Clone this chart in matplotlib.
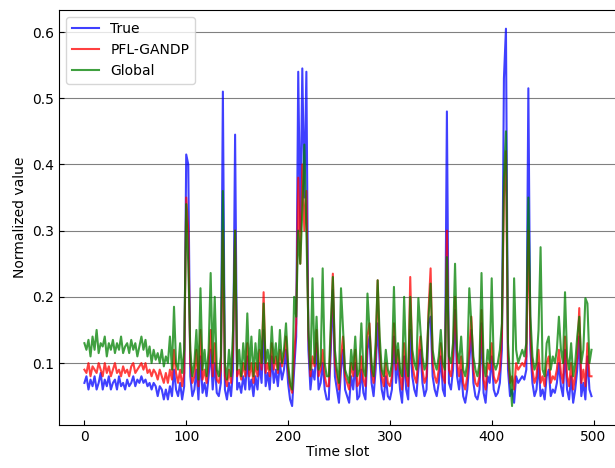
import numpy as np
from matplotlib import pyplot as plt

# values, one every 2 time slots
time_slots = np.arange(0, 500, 2)

true_vals = [
    0.07, 0.08, 0.06, 0.075, 0.065, 0.08, 0.06, 0.07, 0.085, 0.06,
    0.075, 0.065, 0.08, 0.06, 0.07, 0.075, 0.06, 0.08, 0.065, 0.07,
    0.06, 0.075, 0.065, 0.07, 0.08, 0.065, 0.075, 0.07, 0.08, 0.07,
    0.075, 0.065, 0.07, 0.06, 0.07, 0.065, 0.05, 0.065, 0.06, 0.045,
    0.06, 0.045, 0.065, 0.05, 0.09, 0.06, 0.05, 0.07, 0.045, 0.065,
    0.415, 0.40, 0.08, 0.05, 0.06, 0.09, 0.045, 0.11, 0.055, 0.07,
    0.05, 0.08, 0.12, 0.06, 0.10, 0.055, 0.05, 0.07, 0.51, 0.06,
    0.045, 0.07, 0.05, 0.09, 0.445, 0.06, 0.07, 0.055, 0.08, 0.06,
    0.11, 0.06, 0.075, 0.05, 0.08, 0.06, 0.10, 0.07, 0.15, 0.065,
    0.085, 0.06, 0.11, 0.07, 0.09, 0.065, 0.10, 0.075, 0.09, 0.12,
    0.07, 0.045, 0.035, 0.09, 0.14, 0.54, 0.30, 0.545, 0.35, 0.54,
    0.12, 0.06, 0.09, 0.075, 0.13, 0.06, 0.07, 0.10, 0.06, 0.045,
    0.045, 0.12, 0.21, 0.08, 0.06, 0.04, 0.09, 0.12, 0.06, 0.05,
    0.04, 0.08, 0.06, 0.10, 0.045, 0.05, 0.09, 0.055, 0.045, 0.12,
    0.14, 0.07, 0.05, 0.09, 0.16, 0.10, 0.06, 0.045, 0.08, 0.05,
    0.045, 0.06, 0.14, 0.07, 0.10, 0.06, 0.04, 0.11, 0.06, 0.045,
    0.15, 0.08, 0.06, 0.05, 0.09, 0.12, 0.07, 0.05, 0.06, 0.16,
    0.17, 0.08, 0.06, 0.05, 0.07, 0.11, 0.06, 0.05, 0.48, 0.07,
    0.06, 0.09, 0.18, 0.08, 0.06, 0.09, 0.05, 0.04, 0.06, 0.10,
    0.15, 0.07, 0.05, 0.045, 0.06, 0.16, 0.055, 0.04, 0.08, 0.07,
    0.11, 0.06, 0.05, 0.055, 0.07, 0.12, 0.53, 0.605, 0.09, 0.05,
    0.06, 0.04, 0.08, 0.07, 0.075, 0.08, 0.075, 0.09, 0.515, 0.12,
    0.07, 0.05, 0.06, 0.10, 0.05, 0.06, 0.045, 0.08, 0.09, 0.05,
    0.06, 0.055, 0.07, 0.10, 0.065, 0.05, 0.12, 0.06, 0.045, 0.08,
    0.04, 0.06, 0.09, 0.14, 0.05, 0.07, 0.045, 0.11, 0.06, 0.05,
]

pfl_vals = [
    0.09, 0.085, 0.10, 0.08, 0.095, 0.09, 0.085, 0.10, 0.09, 0.08,
    0.10, 0.085, 0.095, 0.08, 0.09, 0.10, 0.085, 0.09, 0.08, 0.095,
    0.085, 0.09, 0.08, 0.095, 0.10, 0.085, 0.09, 0.095, 0.10, 0.09,
    0.10, 0.085, 0.09, 0.08, 0.09, 0.085, 0.075, 0.09, 0.08, 0.07,
    0.085, 0.07, 0.09, 0.075, 0.12, 0.085, 0.07, 0.09, 0.065, 0.085,
    0.35, 0.30, 0.10, 0.07, 0.08, 0.12, 0.065, 0.15, 0.075, 0.09,
    0.07, 0.10, 0.15, 0.08, 0.13, 0.075, 0.07, 0.09, 0.30, 0.08,
    0.065, 0.09, 0.07, 0.12, 0.30, 0.08, 0.09, 0.075, 0.10, 0.08,
    0.13, 0.08, 0.10, 0.07, 0.10, 0.08, 0.12, 0.09, 0.207, 0.085,
    0.10, 0.08, 0.13, 0.09, 0.11, 0.085, 0.12, 0.095, 0.11, 0.14,
    0.09, 0.065, 0.055, 0.11, 0.16, 0.38, 0.25, 0.40, 0.30, 0.36,
    0.14, 0.08, 0.11, 0.095, 0.15, 0.08, 0.09, 0.12, 0.08, 0.065,
    0.065, 0.14, 0.235, 0.10, 0.08, 0.06, 0.11, 0.14, 0.08, 0.07,
    0.06, 0.10, 0.08, 0.12, 0.065, 0.07, 0.11, 0.075, 0.065, 0.14,
    0.16, 0.09, 0.07, 0.11, 0.225, 0.12, 0.08, 0.065, 0.10, 0.07,
    0.065, 0.08, 0.16, 0.09, 0.12, 0.08, 0.06, 0.13, 0.08, 0.065,
    0.23, 0.10, 0.08, 0.07, 0.11, 0.14, 0.09, 0.07, 0.08, 0.18,
    0.243, 0.10, 0.08, 0.07, 0.09, 0.13, 0.08, 0.07, 0.30, 0.09,
    0.08, 0.11, 0.20, 0.10, 0.08, 0.11, 0.07, 0.06, 0.08, 0.12,
    0.17, 0.09, 0.07, 0.065, 0.08, 0.18, 0.075, 0.06, 0.10, 0.09,
    0.13, 0.08, 0.07, 0.075, 0.09, 0.14, 0.35, 0.42, 0.11, 0.07,
    0.08, 0.06, 0.10, 0.09, 0.095, 0.10, 0.095, 0.11, 0.30, 0.14,
    0.09, 0.07, 0.08, 0.12, 0.07, 0.08, 0.065, 0.10, 0.11, 0.07,
    0.08, 0.075, 0.09, 0.12, 0.085, 0.07, 0.14, 0.08, 0.065, 0.10,
    0.06, 0.08, 0.11, 0.183, 0.07, 0.09, 0.065, 0.13, 0.08, 0.08,
]

global_vals = [
    0.13, 0.12, 0.135, 0.11, 0.14, 0.12, 0.15, 0.115, 0.13, 0.125,
    0.14, 0.11, 0.13, 0.12, 0.135, 0.115, 0.13, 0.12, 0.14, 0.115,
    0.125, 0.13, 0.115, 0.135, 0.12, 0.13, 0.11, 0.125, 0.14, 0.12,
    0.135, 0.11, 0.125, 0.10, 0.12, 0.105, 0.115, 0.10, 0.12, 0.095,
    0.11, 0.10, 0.14, 0.09, 0.185, 0.10, 0.09, 0.13, 0.085, 0.12,
    0.34, 0.25, 0.12, 0.08, 0.10, 0.15, 0.075, 0.213, 0.09, 0.12,
    0.08, 0.12, 0.236, 0.10, 0.20, 0.09, 0.08, 0.11, 0.36, 0.10,
    0.075, 0.12, 0.08, 0.15, 0.30, 0.09, 0.12, 0.08, 0.13, 0.09,
    0.175, 0.09, 0.14, 0.08, 0.13, 0.09, 0.15, 0.10, 0.19, 0.10,
    0.12, 0.09, 0.155, 0.10, 0.13, 0.09, 0.15, 0.10, 0.12, 0.16,
    0.10, 0.07, 0.06, 0.20, 0.17, 0.30, 0.25, 0.33, 0.43, 0.30,
    0.15, 0.09, 0.228, 0.10, 0.17, 0.09, 0.10, 0.243, 0.10, 0.08,
    0.08, 0.16, 0.23, 0.12, 0.09, 0.07, 0.213, 0.15, 0.09, 0.08,
    0.07, 0.12, 0.09, 0.14, 0.08, 0.09, 0.16, 0.09, 0.08, 0.205,
    0.15, 0.10, 0.08, 0.13, 0.225, 0.14, 0.09, 0.08, 0.12, 0.09,
    0.08, 0.10, 0.215, 0.10, 0.13, 0.09, 0.08, 0.20, 0.10, 0.08,
    0.20, 0.12, 0.10, 0.09, 0.198, 0.15, 0.11, 0.09, 0.10, 0.17,
    0.22, 0.12, 0.10, 0.09, 0.11, 0.15, 0.10, 0.09, 0.26, 0.11,
    0.10, 0.13, 0.25, 0.12, 0.10, 0.14, 0.09, 0.08, 0.10, 0.213,
    0.16, 0.11, 0.09, 0.08, 0.10, 0.236, 0.10, 0.08, 0.12, 0.10,
    0.228, 0.10, 0.09, 0.10, 0.12, 0.16, 0.38, 0.45, 0.13, 0.08,
    0.035, 0.228, 0.12, 0.10, 0.11, 0.12, 0.11, 0.13, 0.35, 0.17,
    0.11, 0.09, 0.10, 0.15, 0.275, 0.09, 0.08, 0.13, 0.14, 0.09,
    0.11, 0.10, 0.12, 0.17, 0.12, 0.10, 0.207, 0.11, 0.09, 0.13,
    0.08, 0.10, 0.14, 0.17, 0.10, 0.12, 0.198, 0.19, 0.10, 0.12,
]

fig = plt.figure(figsize=(6.15, 4.68), dpi=100)
ax = fig.add_axes([0.096, 0.092, 0.907, 0.887])

ax.plot(time_slots, true_vals, color="blue", alpha=0.75, linewidth=1.5, label="True")
ax.plot(time_slots, pfl_vals, color="red", alpha=0.75, linewidth=1.5, label="PFL-GANDP")
ax.plot(time_slots, global_vals, color="green", alpha=0.75, linewidth=1.5, label="Global")

ax.yaxis.grid(True, color="gray", linewidth=0.8)
ax.set_axisbelow(True)
ax.tick_params(direction="in", labelsize=10)
ax.set_xlabel("Time slot", fontsize=10, labelpad=1)
ax.set_ylabel("Normalized value", fontsize=10)
ax.legend(loc="upper left", fontsize=10)

fig.savefig("out.png", dpi=100)
